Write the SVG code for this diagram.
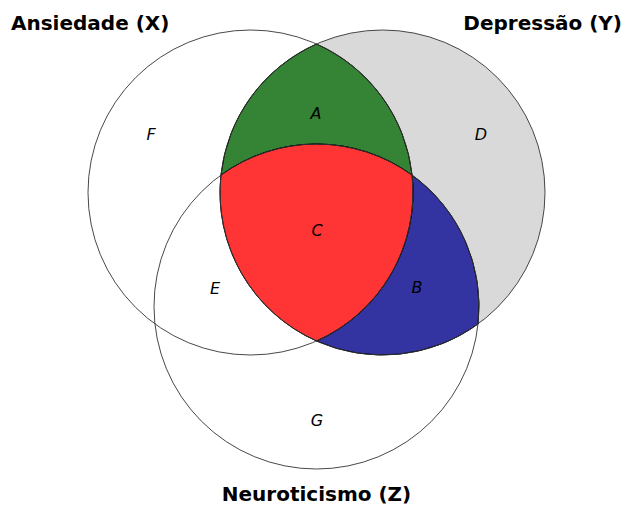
<svg xmlns="http://www.w3.org/2000/svg" width="635" height="514" viewBox="0 0 635 514">
<style>
.circ{fill:none;stroke:#333;stroke-width:0.9}
.reg{stroke:#000;stroke-width:1}
.lbl{font-family:"DejaVu Sans",sans-serif;font-style:italic;font-size:16px;text-anchor:middle;fill:#000}
.ttl{font-family:"DejaVu Sans",sans-serif;font-weight:bold;font-size:20px;fill:#000}
</style>
<rect width="635" height="514" fill="#fff"/>
<g id="regions">
<circle id="D" cx="382.5" cy="192.5" r="162.5" fill="#d9d9d9"/>
<path id="A" class="reg" fill="#358334" d="M316.5,44 A162.5,162.5 0 0 0 220.9,175.1 A162.5,162.5 0 0 1 412.1,175.1 A162.5,162.5 0 0 0 316.5,44 Z"/>
<path id="B" class="reg" fill="#3333a1" d="M412.1,175.1 A162.5,162.5 0 0 1 316.5,341 A162.5,162.5 0 0 0 478.1,323.9 A162.5,162.5 0 0 0 412.1,175.1 Z"/>
<path id="C" class="reg" fill="#ff3535" d="M220.9,175.1 A162.5,162.5 0 0 1 412.1,175.1 A162.5,162.5 0 0 1 316.5,341 A162.5,162.5 0 0 1 220.9,175.1 Z"/>
</g>
<g id="circles">
<circle id="X" class="circ" cx="250.5" cy="192.5" r="162.5"/>
<circle id="Y" class="circ" cx="382.5" cy="192.5" r="162.5"/>
<circle id="Z" class="circ" cx="316.5" cy="306.5" r="162.5"/>
</g>
<g id="labels">
<text class="lbl" x="316" y="119">A</text>
<text class="lbl" x="417" y="293">B</text>
<text class="lbl" x="317" y="236">C</text>
<text class="lbl" x="481" y="140">D</text>
<text class="lbl" x="215" y="294">E</text>
<text class="lbl" x="151" y="140">F</text>
<text class="lbl" x="317" y="426">G</text>
</g>
<g id="titles">
<text class="ttl" x="11" y="30">Ansiedade (X)</text>
<text class="ttl" x="622" y="30" text-anchor="end">Depressão (Y)</text>
<text class="ttl" x="316.5" y="501" text-anchor="middle">Neuroticismo (Z)</text>
</g>
</svg>
